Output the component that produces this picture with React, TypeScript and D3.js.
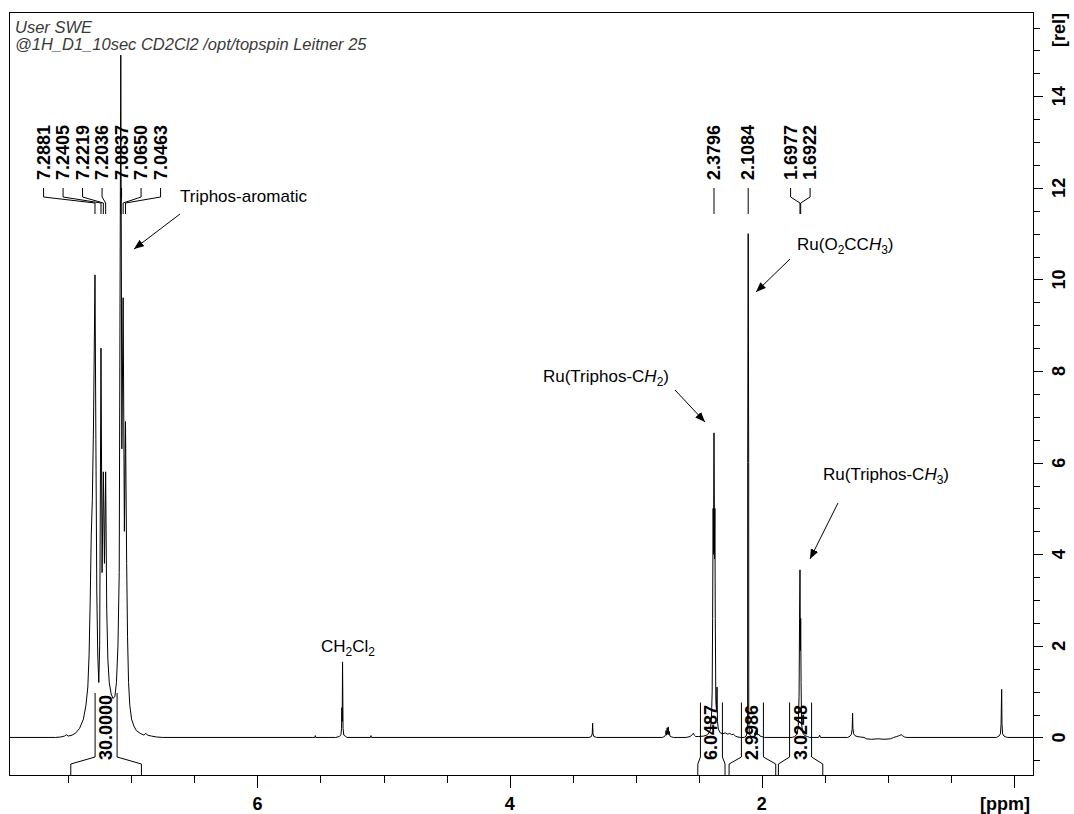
import React from "react";
import * as d3 from "d3";

type Pt = [number, number];

// ---- Spectrum trace, as [ppm, intensity] vertices per signal region ----
const aromaticTrace: Pt[] = [
  [7.6, 0], [7.56, 0.01], [7.53, 0.03], [7.515, 0.06], [7.5, 0.03], [7.47, 0.05],
  [7.44, 0.1], [7.41, 0.2], [7.38, 0.4], [7.36, 0.7], [7.345, 1.1], [7.335, 1.8],
  [7.326, 3.0], [7.318, 4.4], [7.309, 5.2], [7.3, 6.8], [7.2881, 10.1], [7.281, 6.5],
  [7.274, 3.2], [7.266, 1.8], [7.258, 1.2], [7.251, 2.0], [7.2405, 8.5], [7.232, 3.6],
  [7.2219, 5.8], [7.213, 3.8], [7.2036, 5.8], [7.195, 2.8], [7.186, 1.7], [7.175, 1.2],
  [7.16, 0.95], [7.145, 0.85], [7.13, 0.9], [7.118, 1.2], [7.106, 2.0], [7.096, 3.6],
  [7.0837, 14.9], [7.075, 6.3], [7.065, 9.6], [7.055, 4.5], [7.0463, 6.9], [7.037, 3.8],
  [7.03, 2.2], [7.022, 1.2], [7.012, 0.7], [6.998, 0.4], [6.98, 0.25], [6.96, 0.15],
  [6.93, 0.09], [6.9, 0.05], [6.885, 0.09], [6.872, 0.05], [6.84, 0.03], [6.8, 0.01], [6.75, 0],
];

const solventTrace: Pt[] = [
  [5.56, 0], [5.545, 0], [5.541, 0.04], [5.537, 0], [5.38, 0], [5.35, 0.02],
  [5.338, 0.06], [5.333, 0.2], [5.3305, 0.65], [5.328, 0.35], [5.325, 1.65],
  [5.321, 0.2], [5.315, 0.05], [5.3, 0.02], [5.29, 0], [5.104, 0], [5.1, 0.04], [5.096, 0],
];

const impurityTrace: Pt[] = [
  [3.37, 0], [3.352, 0.02], [3.345, 0.08], [3.342, 0.31], [3.339, 0.08], [3.332, 0.02], [3.31, 0],
  [2.79, 0], [2.772, 0.02], [2.763, 0.06], [2.76, 0.15], [2.756, 0.05], [2.751, 0.21],
  [2.747, 0.07], [2.742, 0.23], [2.738, 0.06], [2.734, 0.13], [2.729, 0.03], [2.715, 0.01], [2.7, 0],
];

const ch2Trace: Pt[] = [
  [2.6, 0], [2.57, 0.02], [2.552, 0.06], [2.544, 0.09], [2.536, 0.05], [2.525, 0.02],
  [2.5, 0.02], [2.46, 0.03], [2.43, 0.06], [2.41, 0.15], [2.4, 0.4], [2.394, 1.0],
  [2.3905, 2.6], [2.3865, 5.0], [2.3835, 4.0], [2.3796, 6.65], [2.3755, 3.9], [2.3725, 5.0],
  [2.3695, 2.6], [2.365, 0.8], [2.36, 0.6], [2.3555, 1.1], [2.352, 0.35], [2.345, 0.18],
  [2.33, 0.1], [2.31, 0.08], [2.29, 0.1], [2.27, 0.07], [2.255, 0.09], [2.24, 0.06],
  [2.225, 0.07], [2.21, 0.03], [2.19, 0.01], [2.17, 0],
];

const acetateTrace: Pt[] = [
  [2.14, 0], [2.125, 0.03], [2.117, 0.1], [2.113, 0.4], [2.1125, 6.0], [2.1084, 11.0],
  [2.1045, 6.0], [2.104, 0.4], [2.1, 0.12], [2.093, 0.04], [2.08, 0.01], [2.07, 0],
  [2.062, 0.02], [2.054, 0.1], [2.05, 0.04], [2.046, 0.16], [2.042, 0.06], [2.038, 0.14],
  [2.032, 0.05], [2.024, 0.07], [2.015, 0.03], [2.0, 0.02], [1.98, 0],
];

const ch3Trace: Pt[] = [
  [1.76, 0], [1.74, 0.02], [1.725, 0.06], [1.712, 0.2], [1.705, 0.9], [1.701, 2.6],
  [1.6977, 3.66], [1.6955, 2.2], [1.694, 1.9], [1.6922, 2.6], [1.689, 1.2], [1.685, 0.3],
  [1.676, 0.1], [1.66, 0.04], [1.64, 0.02], [1.62, 0],
  [1.55, 0], [1.542, 0.05], [1.535, 0],
];

const highFieldTrace: Pt[] = [
  [1.32, 0], [1.3, 0.03], [1.29, 0.07], [1.284, 0.18], [1.2805, 0.53], [1.278, 0.2],
  [1.272, 0.08], [1.262, 0.04], [1.245, 0.02], [1.22, 0.01], [1.19, 0], [1.17, -0.03],
  [1.13, -0.04], [1.08, -0.03], [1.03, -0.04], [0.98, -0.03], [0.955, 0], [0.93, 0.02],
  [0.91, 0.04], [0.895, 0.06], [0.885, 0.04], [0.87, 0.01], [0.85, 0],
  [0.14, 0], [0.12, 0.03], [0.108, 0.08], [0.103, 0.3], [0.1005, 0.75], [0.0985, 1.05],
  [0.096, 0.3], [0.091, 0.08], [0.08, 0.03], [0.065, 0.01], [0.05, 0],
];

// ---- Peak picking labels (ppm) ----
const aromaticPeaks = [7.2881, 7.2405, 7.2219, 7.2036, 7.0837, 7.065, 7.0463];
const ch2Peaks = [2.3796];
const acetatePeaks = [2.1084];
const ch3Peaks = [1.6977, 1.6922];
const aromaticLabelCenter = 7.232;

// ---- Integrals ----
const integralValues = ["30.0000", "6.0487", "2.9986", "3.0248"];
const integralFrom = [7.48, 2.508, 2.26, 1.869];
const integralTo = [6.92, 2.292, 1.89, 1.517];

// ---- Axes ----
const ppmLabels = [2, 4, 6];
const ppmMajor = [0, 2, 4, 6];
const relLabels = [0, 2, 4, 6, 8, 10, 12, 14];

const W = 1074;
const H = 814;
const L = 9, T = 12, R = 1033, B = 775;

const x = d3.scaleLinear().domain([7.97, -0.15]).range([L, R]);
const y = d3.scaleLinear().domain([-0.82, 15.84]).range([B, T]);

const SANS = "'Liberation Sans', Arial, Helvetica, sans-serif";

export default function App() {
  const vertices: Pt[] = [
    [7.97, 0],
    ...aromaticTrace,
    ...solventTrace,
    ...impurityTrace,
    ...ch2Trace,
    ...acetateTrace,
    ...ch3Trace,
    ...highFieldTrace,
    [-0.15, 0],
  ].sort((a, b) => b[0] - a[0]) as Pt[];

  const line = d3.line<Pt>().x((d) => x(d[0])).y((d) => y(d[1]));
  const spectrumPath = line(vertices) || "";

  const minorPpm = d3.range(0, 8, 0.5).filter((v) => !ppmMajor.includes(v));
  const minorRel = d3.range(-0.5, 15.6, 0.5).filter((v) => !relLabels.includes(v));

  // label groups: spread labels evenly around a centre, leaders run to the peaks
  const spacing = 19.5;
  const groups = [
    { ppms: aromaticPeaks, cx: x(aromaticLabelCenter) },
    { ppms: ch2Peaks, cx: d3.mean(ch2Peaks.map(x)) as number },
    { ppms: acetatePeaks, cx: d3.mean(acetatePeaks.map(x)) as number },
    { ppms: ch3Peaks, cx: d3.mean(ch3Peaks.map(x)) as number },
  ];
  const peakLabels = groups.flatMap((g) =>
    g.ppms.map((p, i) => ({
      p,
      lx: g.cx + (i - (g.ppms.length - 1) / 2) * spacing,
      px: x(p),
    }))
  );

  const integrals = integralValues.map((v, i) => {
    const xa = x(integralFrom[i]);
    const xb = x(integralTo[i]);
    const cx = (xa + xb) / 2;
    return { v, xa, xb, cx, top: 760 - 9.5 * v.length - 0.5 };
  });

  return (
    <svg
      width={W}
      height={H}
      viewBox={`0 0 ${W} ${H}`}
      style={{ position: "absolute", left: 0, top: 0, background: "#fff" }}
    >
      <defs>
        <marker
          id="arrowHead"
          viewBox="0 0 10 8"
          refX="10"
          refY="4"
          markerWidth="10"
          markerHeight="8"
          markerUnits="userSpaceOnUse"
          orient="auto"
        >
          <path d="M0,0 L10,4 L0,8 z" fill="#000" />
        </marker>
      </defs>
      <rect x={0} y={0} width={W} height={H} fill="#fff" />

      {/* header */}
      <g fontFamily={SANS} fontStyle="italic" fontSize={16.5} fill="#3a3a3a">
        <text x={15} y={33}>User SWE</text>
        <text x={15} y={50}>@1H_D1_10sec CD2Cl2 /opt/topspin Leitner 25</text>
      </g>

      {/* frame */}
      <rect x={L + 0.5} y={T + 0.5} width={R - L} height={B - T} fill="none" stroke="#000" strokeWidth={1} />

      {/* x axis */}
      <g stroke="#000" strokeWidth={1}>
        {ppmMajor.map((v) => (
          <line key={"M" + v} x1={Math.round(x(v)) + 0.5} x2={Math.round(x(v)) + 0.5} y1={B} y2={B + 13} />
        ))}
        {minorPpm.map((v) => (
          <line key={"m" + v} x1={Math.round(x(v)) + 0.5} x2={Math.round(x(v)) + 0.5} y1={B} y2={B + 8} />
        ))}
      </g>
      <g fontFamily={SANS} fontWeight="bold" fontSize={18} fill="#000">
        {ppmLabels.map((v) => (
          <text key={v} x={x(v)} y={809.5} textAnchor="middle">{v}</text>
        ))}
        <text x={1030} y={809.5} textAnchor="end">[ppm]</text>
      </g>

      {/* y axis (right) */}
      <g stroke="#000" strokeWidth={1}>
        {relLabels.map((v) => (
          <line key={"M" + v} x1={R} x2={R + 10} y1={Math.round(y(v)) + 0.5} y2={Math.round(y(v)) + 0.5} />
        ))}
        {minorRel.map((v) => (
          <line key={"m" + v} x1={R} x2={R + 7} y1={Math.round(y(v)) + 0.5} y2={Math.round(y(v)) + 0.5} />
        ))}
      </g>
      <g fontFamily={SANS} fontWeight="bold" fontSize={18} fill="#000">
        {relLabels.map((v) => (
          <text
            key={v}
            transform={`translate(1059,${y(v)}) rotate(-90)`}
            textAnchor="middle"
            dominantBaseline="central"
          >
            {v}
          </text>
        ))}
        <text transform="translate(1059,30) rotate(-90)" textAnchor="middle" dominantBaseline="central">
          [rel]
        </text>
      </g>

      {/* peak labels */}
      <g fontFamily={SANS} fontWeight="bold" fontSize={18} fill="#000">
        {peakLabels.map((d) => (
          <text
            key={d.p}
            transform={`translate(${d.lx},180) rotate(-90)`}
            textAnchor="start"
            dominantBaseline="central"
          >
            {d.p.toFixed(4)}
          </text>
        ))}
      </g>
      <g fill="none" stroke="#000" strokeWidth={1}>
        {peakLabels.map((d) => (
          <path key={d.p} d={`M${d.lx},188 L${d.lx},197 L${d.px},203 L${d.px},214`} />
        ))}
      </g>

      {/* integrals */}
      <g fill="none" stroke="#000" strokeWidth={1}>
        {integrals.map((g) => (
          <g key={g.v}>
            <path d={`M${g.xa},${B} L${g.xa},764 L${g.cx - 11},757 L${g.cx - 11},${g.top}`} />
            <path d={`M${g.cx + 11},${g.top} L${g.cx + 11},757 L${g.xb},764 L${g.xb},${B}`} />
          </g>
        ))}
      </g>
      <g fontFamily={SANS} fontWeight="bold" fontSize={18} fill="#000">
        {integrals.map((g) => (
          <text
            key={g.v}
            transform={`translate(${g.cx},760) rotate(-90)`}
            textAnchor="start"
            dominantBaseline="central"
          >
            {g.v}
          </text>
        ))}
      </g>

      {/* spectrum */}
      <path d={spectrumPath} fill="none" stroke="#000" strokeWidth={1} strokeLinejoin="miter" />

      {/* assignments */}
      <g fontFamily={SANS} fontSize={17} fill="#000">
        <text x={180} y={201.5}>Triphos-aromatic</text>
        <text x={797} y={250}>
          Ru(O<tspan dy={4} fontSize={12}>2</tspan>
          <tspan dy={-4}>CC</tspan>
          <tspan fontStyle="italic">H</tspan>
          <tspan dy={4} fontSize={12}>3</tspan>
          <tspan dy={-4}>)</tspan>
        </text>
        <text x={669} y={382} textAnchor="end">
          Ru(Triphos-C<tspan fontStyle="italic">H</tspan>
          <tspan dy={4} fontSize={12}>2</tspan>
          <tspan dy={-4}>)</tspan>
        </text>
        <text x={823} y={480}>
          Ru(Triphos-C<tspan fontStyle="italic">H</tspan>
          <tspan dy={4} fontSize={12}>3</tspan>
          <tspan dy={-4}>)</tspan>
        </text>
        <text x={321} y={652}>
          CH<tspan dy={4} fontSize={12}>2</tspan>
          <tspan dy={-4}>Cl</tspan>
          <tspan dy={4} fontSize={12}>2</tspan>
        </text>
      </g>
      <g stroke="#000" strokeWidth={1}>
        <line x1={180} y1={214} x2={134} y2={249} markerEnd="url(#arrowHead)" />
        <line x1={790} y1={259} x2={756} y2={292} markerEnd="url(#arrowHead)" />
        <line x1={675} y1={390} x2={705} y2={422} markerEnd="url(#arrowHead)" />
        <line x1={838} y1={503} x2={810} y2={559} markerEnd="url(#arrowHead)" />
      </g>
    </svg>
  );
}
